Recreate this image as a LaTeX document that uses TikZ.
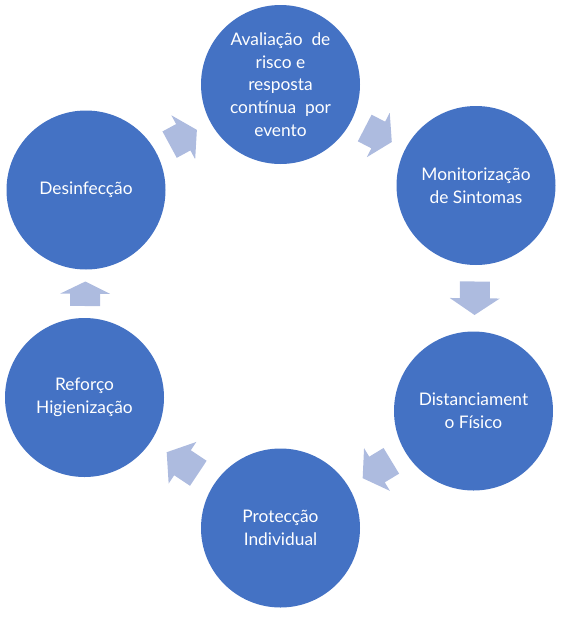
\documentclass[tikz,border=0pt]{standalone}
\usepackage{fontspec}
\setmainfont{Lato}
\definecolor{azul}{RGB}{68,114,196}
\definecolor{azulclaro}{RGB}{173,187,223}

\begin{document}
\begin{tikzpicture}[x=0.75pt,y=-0.75pt,
  etapa/.style={circle,fill=azul,minimum size=159*0.75pt,inner sep=0pt,
    text=white,align=center,font=\fontsize{13}{17}\selectfont},
  seta/.pic={\fill[azulclaro] (-#1/2,-15) -- (0,-15) -- (0,-25) -- (#1/2,0)
    -- (0,25) -- (0,15) -- (-#1/2,15) -- cycle;}]
\useasboundingbox (0,0) rectangle (561,618);
\node[etapa] (aval) at (280.5,84.5) {Avaliação\ \ de\\risco e\\resposta\\contínua\ \ por\\evento};
\node[etapa] (monit) at (476,185.5) {Monitorização\\de Sintomas};
\node[etapa] (dist) at (473.5,411) {Distanciament\\o Físico};
\node[etapa] (protec) at (280.5,528) {Protecção\\Individual};
\node[etapa] (refor) at (84.5,397.5) {Reforço\\Higienização};
\node[etapa] (desinf) at (86,190) {Desinfecção};
% setas do ciclo
\path (aval) -- pic[midway,sloped,allow upside down]{seta=30.5} (monit);
\path (monit) -- pic[midway,sloped,allow upside down]{seta=33.5} (dist);
\path (dist) -- pic[midway,sloped,allow upside down]{seta=33.5} (protec);
\path (protec) -- pic[midway,sloped,allow upside down]{seta=38} (refor);
\path (refor) -- pic[midway,sloped,allow upside down]{seta=24.5} (desinf);
\path (desinf) -- pic[midway,sloped,allow upside down]{seta=31} (aval);
\end{tikzpicture}
\end{document}
